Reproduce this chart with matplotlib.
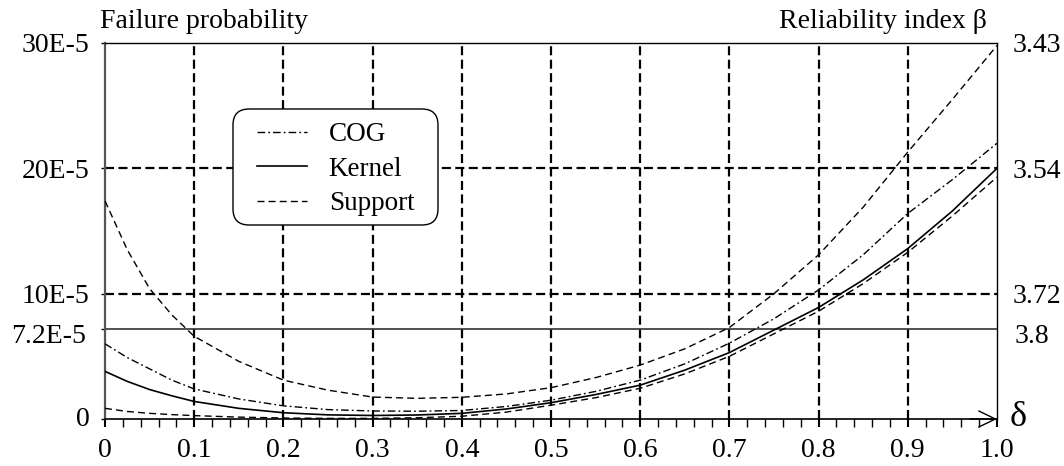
import matplotlib
matplotlib.use('Agg')
import matplotlib.pyplot as plt
from matplotlib.ticker import MultipleLocator
from matplotlib.patches import FancyBboxPatch
from matplotlib.transforms import ScaledTranslation

# ---- data (failure probability in units of 1E-5) ----
delta = [0.00, 0.025, 0.05, 0.075, 0.10, 0.15, 0.20, 0.25, 0.30, 0.35, 0.40, 0.45, 0.50,
         0.55, 0.60, 0.65, 0.70, 0.75, 0.80, 0.85, 0.90, 0.95, 1.00]
cog = [6.0, 4.9, 4.0, 3.1, 2.4, 1.6, 1.05, 0.75, 0.64, 0.62, 0.68, 1.0, 1.5,
       2.2, 3.1, 4.4, 6.05, 8.0, 10.3, 13.1, 16.4, 19.1, 22.0]
kernel = [3.8, 3.0, 2.35, 1.85, 1.4, 0.85, 0.5, 0.33, 0.28, 0.32, 0.45, 0.8, 1.3,
          1.95, 2.7, 3.9, 5.3, 7.1, 8.9, 11.1, 13.6, 16.6, 20.0]
support_upper = [17.4, 13.5, 10.4, 8.3, 6.6, 4.6, 3.1, 2.3, 1.75, 1.65, 1.73, 2.0, 2.5,
                 3.3, 4.3, 5.6, 7.3, 10.0, 13.1, 16.9, 21.3, 25.5, 29.8]
support_lower = [0.85, 0.6, 0.45, 0.35, 0.27, 0.15, 0.08, 0.05, 0.05, 0.1, 0.22, 0.55, 1.1,
                 1.7, 2.45, 3.6, 5.0, 6.8, 8.6, 10.8, 13.3, 16.2, 19.3]
threshold = 7.2

x_ticks = [0.0, 0.1, 0.2, 0.3, 0.4, 0.5, 0.6, 0.7, 0.8, 0.9, 1.0]
x_tick_labels = ['0', '0.1', '0.2', '0.3', '0.4', '0.5', '0.6', '0.7', '0.8', '0.9', '1.0']
grid_x = [0.1, 0.2, 0.3, 0.4, 0.5, 0.6, 0.7, 0.8, 0.9]
grid_y = [10, 20]
left_ticks = [0, 7.2, 10, 20, 30]
left_tick_labels = ['0', '7.2E-5', '10E-5', '20E-5', '30E-5']
right_ticks = [7.2, 10, 20, 30]
right_tick_labels = ['3.8', '3.72', '3.54', '3.43']

plt.rcParams['font.family'] = ['Liberation Serif', 'DejaVu Serif']
plt.rcParams['lines.scale_dashes'] = False

W, H = 1064, 466
fig = plt.figure(figsize=(W / 100, H / 100), dpi=100)
ax = fig.add_axes([105 / W, 1 - 419 / H, 892 / W, 376 / H])
ax.set_xlim(0, 1)
ax.set_ylim(0, 30)

grid_dash = (0, (6.5, 3.2))
for gx in grid_x:
    ax.axvline(gx, color='black', lw=1.6, ls=grid_dash, zorder=1)
for gy in grid_y:
    ax.axhline(gy, color='black', lw=1.6, ls=grid_dash, zorder=1)
ax.axhline(threshold, color='#333333', lw=1.2, zorder=2)

dashdot = (0, (5.5, 2.2, 1.3, 2.2))
dashed = (0, (5.0, 3.0))
ax.plot(delta, cog, color='black', lw=1.0, ls=dashdot, label='COG', zorder=3)
ax.plot(delta, kernel, color='black', lw=1.2, ls='-', label='Kernel', zorder=3)
ax.plot(delta, support_upper, color='black', lw=1.0, ls=dashed, label='Support', zorder=3)
ax.plot(delta, support_lower, color='black', lw=1.0, ls=dashed, zorder=3)

ax.set_xticks(x_ticks)
ax.set_xticklabels(x_tick_labels)
ax.xaxis.set_minor_locator(MultipleLocator(0.02))
ax.tick_params(axis='x', which='major', direction='out', length=6, width=1.5, pad=8,
               labelsize=20)
ax.tick_params(axis='x', which='minor', direction='out', length=6, width=1.0)
ax.set_yticks(left_ticks)
ax.set_yticklabels(left_tick_labels)
ax.tick_params(axis='y', which='major', direction='out', length=3, width=1.0, pad=8,
               labelsize=20)

ax2 = ax.twinx()
ax2.set_ylim(0, 30)
ax2.set_yticks(right_ticks)
ax2.set_yticklabels(right_tick_labels)
ax2.tick_params(axis='y', length=0, pad=11, labelsize=20)
for s in ax2.spines.values():
    s.set_visible(False)

# small label nudges as in the reference
for lab in ax.get_yticklabels():
    if lab.get_text() == '7.2E-5':
        lab.set_transform(lab.get_transform() + ScaledTranslation(-0.04, -0.05, fig.dpi_scale_trans))
    if lab.get_text() == '0':
        lab.set_transform(lab.get_transform() + ScaledTranslation(0.0, 0.02, fig.dpi_scale_trans))
for lab in ax2.get_yticklabels():
    if lab.get_text() == '3.8':
        lab.set_transform(lab.get_transform() + ScaledTranslation(0.02, -0.05, fig.dpi_scale_trans))

ax.spines['left'].set_color('#555555')
ax.spines['left'].set_linewidth(1.6)
ax.spines['top'].set_linewidth(1.0)
ax.spines['right'].set_linewidth(1.0)
ax.spines['bottom'].set_linewidth(1.2)

ax.annotate('', xy=(1.0, 0), xytext=(0.97, 0), xycoords='data',
            arrowprops=dict(arrowstyle='->,head_length=1.2,head_width=0.58',
                            lw=1.0, color='black', shrinkA=0, shrinkB=0),
            annotation_clip=False)

# legend frame (rounded box) and legend entries
box = FancyBboxPatch(((233 - 105) / 892, (419 - 225) / 376), 205 / 892, 116 / 376,
                     boxstyle='round,pad=0,rounding_size=0.018',
                     mutation_aspect=892 / 376, transform=ax.transAxes,
                     facecolor='white', edgecolor='black', lw=1.0, zorder=4)
ax.add_patch(box)
leg = ax.legend(loc='upper left', bbox_to_anchor=((257 - 105) / 892, (419 - 122) / 376),
                fontsize=19.5, handlelength=1.85, handletextpad=0.8, labelspacing=0.36,
                borderpad=0, borderaxespad=0, frameon=False)
leg.set_zorder(5)

fig.text(100 / W, 1 - 22 / H, 'Failure probability', fontsize=20, va='center', ha='left')
fig.text(987 / W, 1 - 22 / H, 'Reliability index β', fontsize=20, va='center', ha='right')
fig.text(1010 / W, 1 - 417 / H, 'δ', fontsize=26, va='center', ha='left')

fig.savefig('out.png', dpi=100)
